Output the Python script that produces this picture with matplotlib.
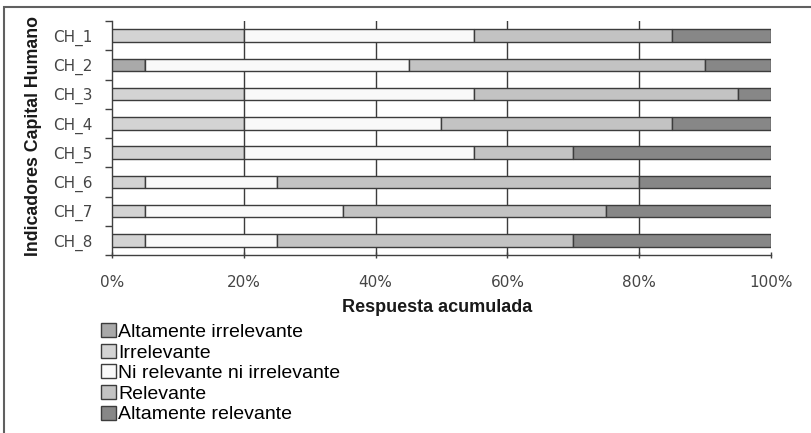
import matplotlib
matplotlib.use("Agg")
import matplotlib.pyplot as plt
from matplotlib.patches import Rectangle
import numpy as np

plt.rcParams['font.family'] = ['Liberation Sans', 'DejaVu Sans']

categories = ["CH_1", "CH_2", "CH_3", "CH_4", "CH_5", "CH_6", "CH_7", "CH_8"]
series_names = ["Altamente irrelevante", "Irrelevante", "Ni relevante ni irrelevante",
                "Relevante", "Altamente relevante"]
altamente_irrelevante = [0, 5, 0, 0, 0, 0, 0, 0]
irrelevante = [20, 0, 20, 20, 20, 5, 5, 5]
ni_relevante = [35, 40, 35, 30, 35, 20, 30, 20]
relevante = [30, 45, 40, 35, 15, 55, 40, 45]
altamente_relevante = [15, 10, 5, 15, 30, 20, 25, 30]
xtick_labels = ["0%", "20%", "40%", "60%", "80%", "100%"]

series = [altamente_irrelevante, irrelevante, ni_relevante, relevante, altamente_relevante]
colors = ["#a9a9a9", "#d3d3d3", "#f9f9f9", "#c3c3c3", "#878787"]

fig = plt.figure(figsize=(8.12, 4.33), dpi=100)
ax = fig.add_axes([112/812, 1-255/433, (771-112)/812, (255-21)/433])

y = np.arange(len(categories))
left = np.zeros(len(categories))
handles = []
for name, vals, col in zip(series_names, series, colors):
    vals = np.array(vals, dtype=float)
    b = ax.barh(y, vals, left=left, height=0.42, color=col,
                edgecolor="#3c3c3c", linewidth=1.0, label=name, zorder=3)
    handles.append(b)
    left += vals

ax.set_xlim(0, 100)
ax.set_ylim(len(categories) - 0.5, -0.5)

tick_font = dict(family="DejaVu Sans", size=11)
ax.set_xticks([0, 20, 40, 60, 80, 100])
ax.set_xticklabels(xtick_labels, color="#454545", fontdict=tick_font)
ax.set_yticks(y)
ax.set_yticklabels(categories, color="#454545", fontdict=tick_font)
ax.tick_params(axis='y', which='major', length=0, pad=14)
ax.set_yticks(np.arange(-0.5, len(categories)), minor=True)
ax.tick_params(axis='y', which='minor', length=5, direction='out', color="#404040", width=1)
ax.tick_params(axis='x', which='major', length=5, direction='inout', color="#404040",
               width=1, pad=12)

for gx in [20, 40, 60, 80]:
    ax.axvline(gx, color="#3c3c3c", linewidth=1.0, zorder=1)

for s in ["top", "right"]:
    ax.spines[s].set_visible(False)
for s in ["left", "bottom"]:
    ax.spines[s].set_color("#404040")
    ax.spines[s].set_linewidth(1.0)

fig.text(437/812, 1-307/433, "Respuesta acumulada", ha="center", va="center",
         fontsize=13, fontweight="bold", color="#1a1a1a")
fig.text(34/812, 1-136/433, "Indicadores Capital Humano", ha="center", va="center",
         rotation=90, fontsize=12.8, fontweight="bold", color="#1a1a1a")

fig.legend(handles=handles, labels=series_names, loc="upper left",
           bbox_to_anchor=(101/812, 1-323/433), frameon=False, fontsize=14,
           handlelength=0.75, handleheight=0.75, handletextpad=0.15,
           labelspacing=0.14, borderpad=0, borderaxespad=0)

fig.add_artist(Rectangle((4/812, -0.2), 1.2, 1.2 - 7/433, transform=fig.transFigure,
                         fill=False, edgecolor="#606060", linewidth=1.5))

fig.savefig("out.png", dpi=100)
